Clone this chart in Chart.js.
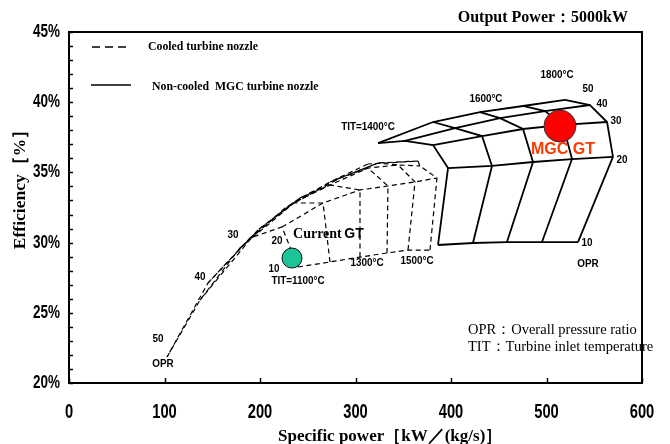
<!DOCTYPE html>
<html>
<head>
<meta charset="utf-8">
<script src="https://cdn.jsdelivr.net/npm/chart.js@4/dist/chart.umd.min.js"></script>
<style>
html,body{margin:0;padding:0;background:#fff}
canvas{display:block}
</style>
</head>
<body>
<canvas id="c" width="670" height="444"></canvas>
<script>
// Turbine inlet temperatures (°C) of each carpet and the overall pressure ratios
const cooledTIT = [1100, 1200, 1300, 1400, 1500, 1600];
const mgcTIT = [1400, 1500, 1600, 1700, 1800];
const oprLevels = [10, 20, 30, 40, 50];

// Cooled turbine nozzle: specific power [kW/(kg/s)], one row per OPR, one column per TIT
const cooledPower = [
  [239.8, 273.3, 304.7, 333.0, 355.0, 378.0],
  [223.0, 266.0, 304.7, 334.0, 362.3, 385.3],
  [189.5, 234.6, 273.3, 313.1, 344.5, 367.5],
  [145.5, 197.9, 241.9, 283.8, 323.6, 365.4],
  [102.6, 137.2, 179.1, 226.2, 273.3, 313.1]
];
// Cooled turbine nozzle: efficiency [%]
const cooledEff = [
  [28.26, 28.62, 28.97, 29.26, 29.47, 29.47],
  [31.11, 32.82, 33.75, 34.03, 34.32, 34.60],
  [30.33, 32.82, 34.10, 35.31, 35.53, 35.46],
  [27.12, 30.90, 33.18, 34.60, 35.67, 35.81],
  [21.85, 25.91, 29.62, 32.46, 34.32, 35.60]
];

// Non-cooled MGC turbine nozzle: specific power [kW/(kg/s)]
const mgcPower = [
  [386.4, 423.0, 458.6, 495.3, 533.0],
  [396.9, 442.9, 485.9, 526.7, 569.6],
  [381.2, 432.5, 475.4, 517.3, 563.4],
  [351.8, 404.2, 451.3, 498.4, 545.5],
  [323.6, 381.2, 430.4, 475.4, 519.4]
];
// Non-cooled MGC turbine nozzle: efficiency [%]
const mgcEff = [
  [29.83, 29.97, 30.04, 30.04, 30.04],
  [35.31, 35.46, 35.74, 35.95, 36.10],
  [36.95, 37.59, 38.09, 38.38, 38.59],
  [37.24, 38.16, 38.87, 39.37, 39.80],
  [37.09, 38.59, 39.30, 39.73, 40.16]
];

// Operating points [specific power, efficiency]
const currentGTPoint = [233.5, 28.9];
const mgcGTPoint = [514.1, 38.3];

// Axis ticks
const xTicks = [0, 100, 200, 300, 400, 500, 600];
const yTicks = [20, 25, 30, 35, 40, 45];
const yMinorStep = 1;

// Carpet annotations: [text, specific power, efficiency]
const tempLabels = [
  ['1800\u00B0C', 511.0, 41.94],
  ['1600\u00B0C', 436.6, 40.23],
  ['TIT=1400\u00B0C', 313.1, 38.23],
  ['1300\u00B0C', 312.0, 28.55],
  ['1500\u00B0C', 364.4, 28.69],
  ['TIT=1100\u00B0C', 239.8, 27.26]
];
const oprLabels = [
  ['50', 543.5, 40.94], ['40', 558.1, 39.87], ['30', 572.8, 38.66],
  ['20', 579.1, 35.88], ['10', 542.4, 29.97], ['OPR', 543.5, 28.48],
  ['30', 171.7, 30.54], ['20', 217.8, 30.11], ['10', 214.7, 28.12],
  ['40', 137.2, 27.55], ['50', 93.2, 23.13], ['OPR', 98.4, 21.35]
];
const notes = [
  ['OPR\uFF1AOverall pressure ratio', 417.8, 23.78],
  ['TIT\uFF1ATurbine inlet temperature', 417.8, 22.57]
];
const mgcGTLabel = ['MGC GT', 517.3, 36.6];
const currentGTLabel = ['Current', 'GT', 234.6, 30.61];

const SANS = '"Liberation Sans", Arial, sans-serif';
const SERIF = '"Liberation Serif", "Times New Roman", serif';

function toXY(powers, effs) {
  return powers.map((x, i) => ({ x: x, y: effs[i] }));
}
function column(mat, c) {
  return mat.map(row => row[c]);
}

const datasets = [];
function addCarpet(power, eff, tits, style) {
  oprLevels.forEach((opr, r) => {
    datasets.push(Object.assign({ label: 'OPR ' + opr, data: toXY(power[r], eff[r]) }, style));
  });
  tits.forEach((t, c) => {
    datasets.push(Object.assign({ label: 'TIT ' + t, data: toXY(column(power, c), column(eff, c)) }, style));
  });
}
const lineBase = { showLine: true, pointRadius: 0, borderColor: '#000', fill: false, tension: 0, order: 2 };
addCarpet(cooledPower, cooledEff, cooledTIT, Object.assign({}, lineBase, { borderWidth: 1.2, borderDash: [5, 3.5] }));
addCarpet(mgcPower, mgcEff, mgcTIT, Object.assign({}, lineBase, { borderWidth: 1.8 }));

datasets.push({
  label: 'Current GT', data: [{ x: currentGTPoint[0], y: currentGTPoint[1] }],
  pointRadius: 10, pointBackgroundColor: '#1cc597', pointBorderColor: '#111', pointBorderWidth: 1, order: 0
});
datasets.push({
  label: 'MGC GT', data: [{ x: mgcGTPoint[0], y: mgcGTPoint[1] }],
  pointRadius: 16, pointBackgroundColor: '#ff0000', pointBorderColor: '#333', pointBorderWidth: 1, order: 0
});

function text(ctx, s, x, y, font, color, align, sx) {
  ctx.save();
  ctx.font = font;
  ctx.fillStyle = color || '#000';
  ctx.textBaseline = 'middle';
  ctx.textAlign = align || 'center';
  ctx.translate(x, y);
  ctx.scale(sx || 1, 1);
  ctx.fillText(s, 0, 0);
  ctx.restore();
}

const decorations = {
  id: 'decorations',
  afterDatasetsDraw(chart) {
    const ctx = chart.ctx;
    const a = chart.chartArea;
    const xs = chart.scales.x, ys = chart.scales.y;
    const px = v => xs.getPixelForValue(v);
    const py = v => ys.getPixelForValue(v);

    // frame
    ctx.save();
    ctx.strokeStyle = '#000';
    ctx.lineWidth = 2;
    ctx.strokeRect(a.left, a.top, a.right - a.left, a.bottom - a.top);
    ctx.lineWidth = 1.5;
    // inward y ticks every 1 %
    for (let v = yTicks[0]; v <= yTicks[yTicks.length - 1]; v += yMinorStep) {
      const y = Math.round(py(v)) + 0.5;
      ctx.beginPath(); ctx.moveTo(a.left, y); ctx.lineTo(a.left + 4, y); ctx.stroke();
    }
    // inward x ticks
    xTicks.forEach(v => {
      const x = Math.round(px(v)) + 0.5;
      ctx.beginPath(); ctx.moveTo(x, a.bottom); ctx.lineTo(x, a.bottom - 5); ctx.stroke();
    });
    ctx.restore();

    // tick labels
    yTicks.forEach(v => text(ctx, v + '%', a.left - 9, py(v), 'bold 18px ' + SANS, '#000', 'right', 0.75));
    xTicks.forEach(v => text(ctx, String(v), px(v), a.bottom + 29, 'bold 21px ' + SANS, '#000', 'center', 0.7));

    // axis titles
    text(ctx, 'Specific power\uFF3BkW\uFF0F(kg/s)\uFF3D', 278, 437, 'bold 17px ' + SERIF, '#000', 'left', 1);
    ctx.save();
    ctx.translate(20, 185);
    ctx.rotate(-Math.PI / 2);
    text(ctx, 'Efficiency\uFF3B%\uFF3D', 0, 0, 'bold 17.5px ' + SERIF, '#000', 'center', 1);
    ctx.restore();

    // header
    text(ctx, 'Output Power\uFF1A5000kW', 628, 18, 'bold 16px ' + SERIF, '#000', 'right', 1);

    // legend
    ctx.save();
    ctx.strokeStyle = '#000';
    ctx.lineWidth = 1.5;
    ctx.setLineDash([8, 5]);
    ctx.beginPath(); ctx.moveTo(a.left + 23, a.top + 15); ctx.lineTo(a.left + 62, a.top + 15); ctx.stroke();
    ctx.setLineDash([]);
    ctx.beginPath(); ctx.moveTo(a.left + 22, a.top + 53); ctx.lineTo(a.left + 62, a.top + 53); ctx.stroke();
    ctx.restore();
    text(ctx, 'Cooled turbine nozzle', a.left + 79, a.top + 15, 'bold 11.8px ' + SERIF, '#000', 'left', 1);
    text(ctx, 'Non-cooled  MGC turbine nozzle', a.left + 83, a.top + 55, 'bold 11.8px ' + SERIF, '#000', 'left', 1);

    // carpet annotations
    tempLabels.forEach(l => text(ctx, l[0], px(l[1]), py(l[2]), 'bold 11px ' + SANS, '#000', 'center', 0.9));
    oprLabels.forEach(l => text(ctx, l[0], px(l[1]), py(l[2]), 'bold 11px ' + SANS, '#000', 'center', 0.9));
    notes.forEach(l => text(ctx, l[0], px(l[1]), py(l[2]), '14.5px ' + SERIF, '#000', 'left', 1));

    // operating point labels
    text(ctx, mgcGTLabel[0], px(mgcGTLabel[1]), py(mgcGTLabel[2]), 'bold 16px ' + SANS, '#ff3a00', 'center', 1);
    ctx.save();
    ctx.font = 'bold 14px ' + SERIF;
    const w = ctx.measureText(currentGTLabel[0] + ' ').width;
    ctx.restore();
    const cx = px(currentGTLabel[2]), cy = py(currentGTLabel[3]);
    text(ctx, currentGTLabel[0], cx, cy, 'bold 14px ' + SERIF, '#000', 'left', 1);
    text(ctx, currentGTLabel[1], cx + w - 1, cy, 'bold 14px ' + SANS, '#000', 'left', 1);
  }
};

new Chart(document.getElementById('c'), {
  type: 'scatter',
  data: { datasets: datasets },
  options: {
    responsive: false,
    animation: false,
    devicePixelRatio: 1,
    events: [],
    layout: { padding: { left: 69, right: 28, top: 32, bottom: 61 } },
    plugins: { legend: { display: false }, tooltip: { enabled: false } },
    scales: {
      x: { type: 'linear', min: 0, max: 600, display: false },
      y: { type: 'linear', min: 20, max: 45, display: false }
    }
  },
  plugins: [decorations]
});
</script>
</body>
</html>
